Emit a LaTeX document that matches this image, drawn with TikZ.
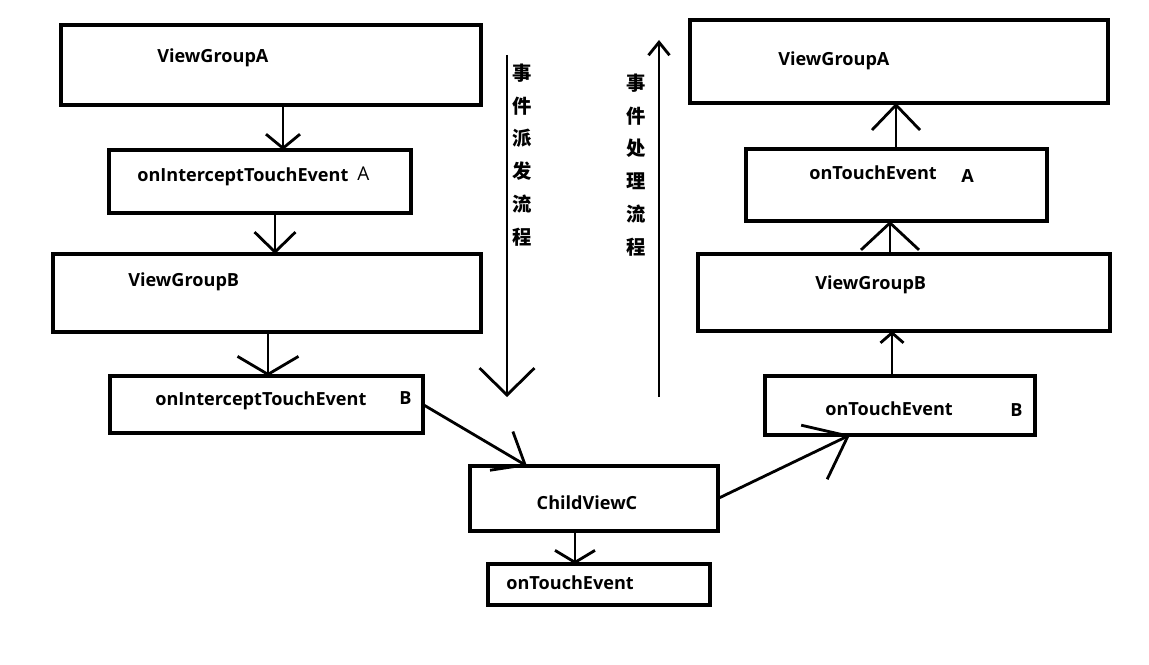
\documentclass[tikz,border=0pt]{standalone}
\usepackage{fontspec}
\setmainfont{Open Sans}
\newfontfamily\cjk{Noto Sans CJK SC}
\usetikzlibrary{arrows.meta}

\tikzset{
  box/.style={draw, line width=2.4pt, inner sep=0pt, outer sep=0pt},
  lbl/.style={inner sep=0pt, anchor=base west, font=\bfseries\fontsize{10.3}{12}\selectfont},
  vlbl/.style={inner sep=0pt, align=center, font=\cjk\bfseries\fontsize{11}{18.7}\selectfont},
  flow/.style 2 args={line width=1.6pt, -{Straight Barb[length=#1, width=#2]}}
}

\begin{document}
\begin{tikzpicture}[x=0.02cm, y=-0.02cm]
  \useasboundingbox (0,0) rectangle (1149,665);

  % Boxes
  \foreach \name/\cx/\cy/\w/\h in {
    vgaL/271/65/8.40/1.60, oiA/260/181.5/6.04/1.26,
    vgbL/267/293/8.56/1.56, oiB/266.5/404.5/6.26/1.14,
    cvC/594/498.5/4.96/1.30, otC/599/584.5/4.44/0.82,
    vgaR/899/61.5/8.36/1.66, otA/896.5/185/6.02/1.44,
    vgbR/904/292.5/8.24/1.54, otB/900/405.5/5.40/1.18} {
    \node[box, minimum width=\w cm, minimum height=\h cm] (\name) at (\cx,\cy) {};
  }

  % Dispatch side
  \node[lbl] (tVgaL) at (157,63) {ViewGroupA};
  \node[lbl] (tOiA) at (137,182) {onInterceptTouchEvent};
  \node[lbl, font=\fontsize{10.8}{12}\selectfont] (tOiAk) at (357,181) {A};
  \node[lbl] (tVgbL) at (128,287) {ViewGroupB};
  \node[lbl] (tOiB) at (155,405) {onInterceptTouchEvent};
  \node[lbl] (tOiBk) at (399,404) {B};

  % Child view
  \node[lbl, anchor=base] (tCvc) at (587,509) {ChildViewC};
  \node[lbl] (tOtC) at (506,589) {onTouchEvent};

  % Handling side
  \node[lbl] (tVgaR) at (778,66) {ViewGroupA};
  \node[lbl] (tOtA) at (809,180) {onTouchEvent};
  \node[lbl] (tOtAk) at (961,183) {A};
  \node[lbl] (tVgbR) at (815,290) {ViewGroupB};
  \node[lbl] (tOtB) at (825,415) {onTouchEvent};
  \node[lbl] (tOtBk) at (1010,417) {B};

  % Flow labels
  \node[vlbl] (tDown) at (522,155) {事\\件\\派\\发\\流\\程};
  \node[vlbl] (tUp) at (636,165) {事\\件\\处\\理\\流\\程};
  \coordinate (dTop) at (507,55);
  \coordinate (dEnd) at (507,397);
  \coordinate (uBot) at (659,397);
  \coordinate (uTop) at (659,40);
  \draw[flow={0.54cm}{1.1cm}] (dTop) -- (dEnd);
  \draw[flow={0.26cm}{0.42cm}] (uBot) -- (uTop);

  % Arrows
  \draw[flow={0.28cm}{0.68cm}] (vgaL.south -| 283,0) -- (oiA.north -| 283,0);
  \draw[flow={0.4cm}{0.82cm}] (oiA.south -| 275,0) -- (vgbL.north -| 275,0);
  \draw[flow={0.36cm}{1.22cm}] (vgbL.south -| 268,0) -- (oiB.north -| 268,0);
  \draw[flow={0.55cm}{0.9cm}] (oiB.east) -- (cvC.north -| 527,0);
  \draw[flow={0.24cm}{0.8cm}] (cvC.south -| 575,0) -- (otC.north -| 575,0);
  \draw[flow={0.75cm}{1.2cm}] (cvC.east) -- (otB.south -| 850,0);
  \draw[flow={0.2cm}{0.46cm}] (otB.north -| 892,0) -- (vgbR.south -| 892,0);
  \draw[flow={0.54cm}{1.16cm}] (vgbR.north -| 890,0) -- (otA.south -| 890,0);
  \draw[flow={0.5cm}{0.96cm}] (otA.north -| 896,0) -- (vgaR.south -| 896,0);
\end{tikzpicture}
\end{document}
